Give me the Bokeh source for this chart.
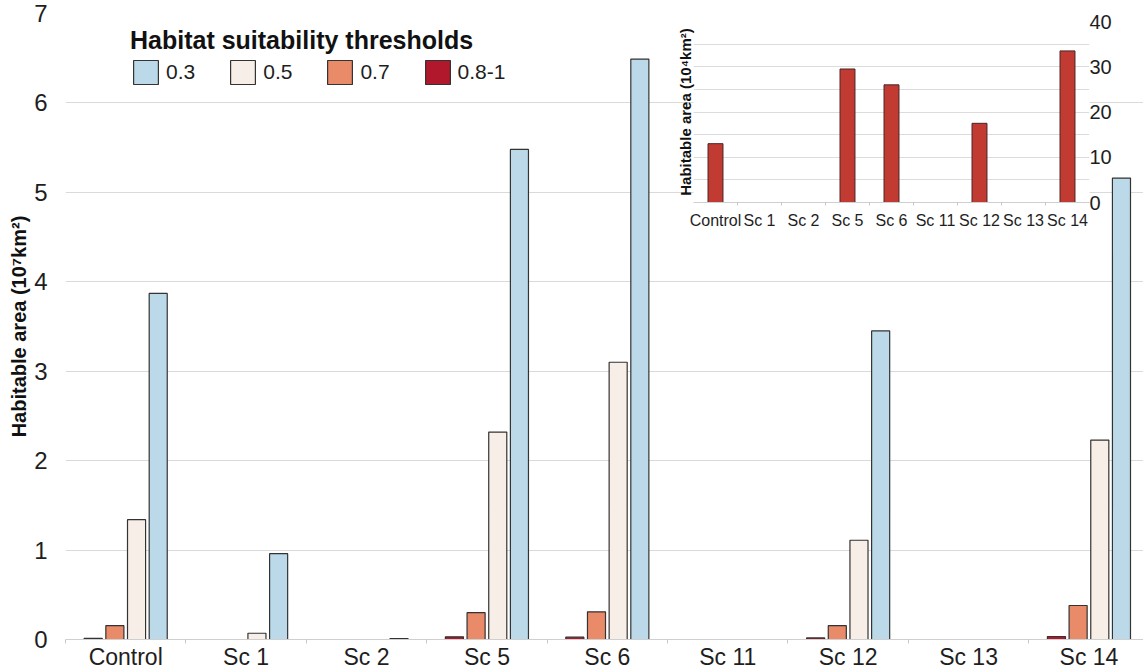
from bokeh.plotting import figure
from bokeh.models import ColumnDataSource, Range1d, FixedTicker, Legend, LegendItem, Title
from bokeh.embed import file_html
from bokeh.resources import INLINE
from bokeh.transform import dodge

# ---------------- data ----------------
categories = ["Control", "Sc 1", "Sc 2", "Sc 5", "Sc 6", "Sc 11", "Sc 12", "Sc 13", "Sc 14"]
# habitable area, 10^7 km^2, per suitability threshold
thr_03 = [3.87, 0.96, 0.01, 5.48, 6.49, 0.0, 3.45, 0.0, 5.16]
thr_05 = [1.34, 0.07, 0.0, 2.32, 3.10, 0.0, 1.11, 0.0, 2.23]
thr_07 = [0.155, 0.0, 0.0, 0.30, 0.31, 0.0, 0.155, 0.0, 0.38]
thr_08_1 = [0.013, 0.0, 0.0, 0.0295, 0.026, 0.0, 0.0175, 0.0, 0.0335]
# inset: 0.8-1 threshold, 10^4 km^2
inset_08_1 = [13.0, 0.0, 0.0, 29.5, 26.0, 0.0, 17.5, 0.0, 33.5]

series_labels = ["0.8-1", "0.7", "0.5", "0.3"]
series_values = [thr_08_1, thr_07, thr_05, thr_03]
series_colors = ["#b2182b", "#e98a69", "#f8eee8", "#bcd9ea"]
series_offsets = [-0.27, -0.09, 0.09, 0.27]

FONT = "Liberation Sans"
TXT = "#1e1e1e"


def nonzero_source(vals, key):
    xs = [i for i, v in enumerate(vals) if v > 0]
    return ColumnDataSource(dict(x=xs, **{key: [vals[i] for i in xs]}))


# ---------------- main chart ----------------
p = figure(width=1143, height=672, output_backend="svg", toolbar_location=None,
           x_range=Range1d(-0.5, 8.453), y_range=Range1d(0, 7),
           min_border_left=65, min_border_right=0, min_border_top=13, min_border_bottom=33)
p.outline_line_color = None
p.background_fill_color = "white"

renderers = {}
for lab, vals, col, off in zip(series_labels, series_values, series_colors, series_offsets):
    src = nonzero_source(vals, "v")
    r = p.vbar(x=dodge("x", off), top="v", width=0.15, source=src,
               fill_color=col, line_color="#333333", line_width=1.2)
    renderers[lab] = r

p.xgrid.grid_line_color = None
p.ygrid.grid_line_color = "#dadada"
p.ygrid.grid_line_width = 1

p.yaxis.ticker = FixedTicker(ticks=list(range(0, 8)))
p.yaxis.axis_line_color = None
p.yaxis.major_tick_line_color = None
p.yaxis.minor_tick_line_color = None
p.yaxis.major_label_text_font = FONT
p.yaxis.major_label_text_font_size = "24px"
p.yaxis.major_label_text_color = TXT
p.yaxis.major_label_standoff = 12
p.yaxis.axis_label = "Habitable area (10\u2077km\u00b2)"
p.yaxis.axis_label_text_font = FONT
p.yaxis.axis_label_text_font_size = "20px"
p.yaxis.axis_label_text_font_style = "bold"
p.yaxis.axis_label_text_color = "#111111"
p.yaxis.axis_label_standoff = 1

p.xaxis.ticker = FixedTicker(ticks=list(range(len(categories))),
                             minor_ticks=[i + 0.5 for i in range(-1, len(categories))])
p.xaxis.major_label_overrides = {i: c for i, c in enumerate(categories)}
p.xaxis.major_tick_line_color = None
p.xaxis.major_tick_out = 0
p.xaxis.major_tick_in = 0
p.xaxis.minor_tick_line_color = "#c8c8c8"
p.xaxis.minor_tick_out = 4
p.xaxis.minor_tick_in = 0
p.xaxis.axis_line_color = "#cfcfcf"
p.xaxis.major_label_text_font = FONT
p.xaxis.major_label_text_font_size = "23px"
p.xaxis.major_label_text_color = TXT
p.xaxis.major_label_standoff = 0

legend = Legend(
    items=[LegendItem(label=lab, renderers=[renderers[lab]]) for lab in ["0.3", "0.5", "0.7", "0.8-1"]],
    location=(65, 552), orientation="horizontal",
    title="Habitat suitability thresholds",
    title_text_font=FONT, title_text_font_size="25px", title_text_font_style="bold",
    title_text_color="#111111", title_standoff=2,
    label_text_font=FONT, label_text_font_size="21px", label_text_color=TXT,
    glyph_width=31, glyph_height=30, label_standoff=5, spacing=32,
    padding=0, margin=0, border_line_alpha=0, background_fill_alpha=0,
)
p.add_layout(legend)

# ---------------- inset (separate root, pulled up over the main chart) ----------------
ins = figure(width=444, height=224, output_backend="svg", toolbar_location=None,
             x_range=Range1d(-0.5, 8.5), y_range=Range1d(0, 40), y_axis_location="right",
             min_border_left=22, min_border_right=26, min_border_top=13, min_border_bottom=30)
ins.margin = (8 - 672, 0, 0, 671)
ins.outline_line_color = None
ins.background_fill_color = "white"
ins.border_fill_color = None

isrc = nonzero_source(inset_08_1, "v")
ins.vbar(x="x", top="v", width=0.34, source=isrc,
         fill_color="#c23b33", line_color="#4a2424", line_width=1)

ins.xgrid.grid_line_color = None
ins.ygrid.ticker = FixedTicker(ticks=list(range(0, 45, 5)))
ins.ygrid.grid_line_color = "#dcdcdc"

ins.yaxis.ticker = FixedTicker(ticks=[0, 10, 20, 30, 40])
ins.yaxis.axis_line_color = None
ins.yaxis.major_tick_line_color = None
ins.yaxis.major_tick_out = 0
ins.yaxis.major_tick_in = 0
ins.yaxis.minor_tick_line_color = None
ins.yaxis.minor_tick_out = 0
ins.yaxis.major_label_text_font = FONT
ins.yaxis.major_label_text_font_size = "20px"
ins.yaxis.major_label_text_color = TXT
ins.yaxis.major_label_standoff = 0

ins.xaxis.ticker = FixedTicker(ticks=list(range(len(categories))),
                               minor_ticks=[i + 0.5 for i in range(0, len(categories) - 1)])
ins.xaxis.major_label_overrides = {i: c for i, c in enumerate(categories)}
ins.xaxis.major_tick_line_color = None
ins.xaxis.major_tick_out = 0
ins.xaxis.major_tick_in = 0
ins.xaxis.minor_tick_line_color = "#c8c8c8"
ins.xaxis.minor_tick_out = 3
ins.xaxis.minor_tick_in = 0
ins.xaxis.axis_line_color = "#cfcfcf"
ins.xaxis.major_label_text_font = FONT
ins.xaxis.major_label_text_font_size = "16px"
ins.xaxis.major_label_text_color = TXT
ins.xaxis.major_label_standoff = 6

ins.add_layout(Title(text="Habitable area (10\u2074km\u00b2)", text_font=FONT,
                     text_font_size="15px", text_font_style="bold", text_color="#111111",
                     align="center", standoff=0, offset=0), "left")

open("out.html", "w").write(file_html([p, ins], INLINE))
